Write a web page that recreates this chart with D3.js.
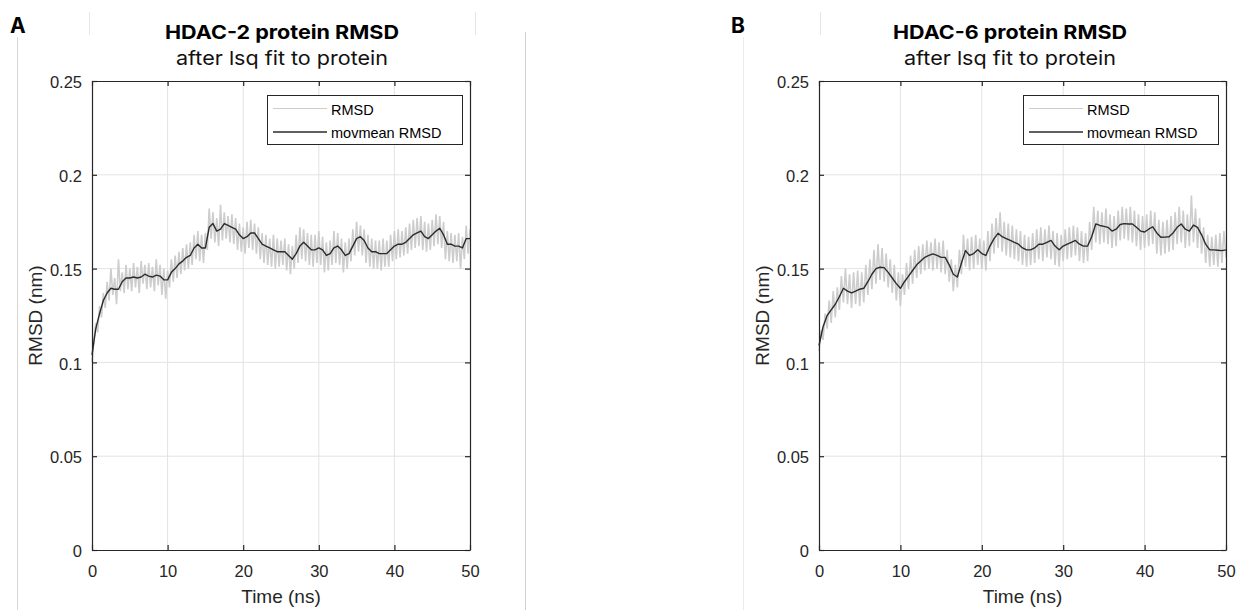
<!DOCTYPE html>
<html>
<head>
<meta charset="utf-8">
<script src="https://cdn.jsdelivr.net/npm/d3@7"></script>
<style>
    body { margin: 0; background: #fff; }
    svg { display: block; }
</style>
</head>
<body>
<script>

// sampling of the two series, in ns
var rawStep = 0.25;
var meanStep = 0.5;

// HDAC-2 raw RMSD (nm), one value every rawStep ns
var hdac2Raw = [
    0.100,0.112,0.121,0.116,0.130,0.124,0.137,0.129,0.143,0.133,
    0.150,0.136,0.145,0.131,0.155,0.138,0.148,0.137,0.152,0.139,
    0.150,0.138,0.153,0.140,0.151,0.137,0.154,0.142,0.152,0.139,
    0.153,0.140,0.151,0.138,0.155,0.141,0.152,0.136,0.150,0.134,
    0.149,0.140,0.155,0.143,0.157,0.145,0.159,0.147,0.161,0.149,
    0.163,0.150,0.164,0.152,0.168,0.155,0.170,0.154,0.168,0.153,
    0.169,0.160,0.182,0.166,0.180,0.164,0.177,0.162,0.184,0.165,
    0.180,0.166,0.178,0.164,0.179,0.163,0.177,0.160,0.174,0.159,
    0.172,0.158,0.175,0.161,0.176,0.160,0.174,0.158,0.172,0.155,
    0.169,0.153,0.168,0.152,0.166,0.151,0.168,0.150,0.166,0.151,
    0.165,0.152,0.166,0.149,0.163,0.147,0.162,0.150,0.168,0.153,
    0.172,0.155,0.171,0.154,0.169,0.152,0.168,0.151,0.168,0.153,
    0.170,0.152,0.167,0.148,0.164,0.149,0.165,0.152,0.170,0.153,
    0.169,0.152,0.166,0.148,0.164,0.150,0.166,0.154,0.171,0.157,
    0.175,0.159,0.173,0.157,0.171,0.153,0.168,0.151,0.166,0.150,
    0.165,0.150,0.165,0.149,0.166,0.151,0.165,0.151,0.168,0.154,
    0.170,0.155,0.171,0.156,0.170,0.157,0.172,0.158,0.174,0.160,
    0.176,0.161,0.177,0.162,0.178,0.160,0.175,0.159,0.174,0.160,
    0.176,0.162,0.179,0.163,0.178,0.161,0.175,0.155,0.170,0.154,
    0.169,0.153,0.168,0.154,0.169,0.150,0.167,0.155,0.173,0.158,
    0.171
];

// HDAC-2 moving mean RMSD (nm), one value every meanStep ns
var hdac2Mean = [
    0.104,0.118,0.126,0.133,0.137,0.1395,0.139,0.139,0.143,0.145,
    0.145,0.1455,0.145,0.1455,0.147,0.146,0.1455,0.1465,0.146,0.144,
    0.144,0.148,0.150,0.1525,0.154,0.156,0.157,0.161,0.163,0.161,
    0.161,0.172,0.174,0.170,0.171,0.174,0.173,0.172,0.171,0.168,
    0.166,0.167,0.169,0.169,0.166,0.163,0.162,0.161,0.160,0.159,
    0.159,0.159,0.157,0.155,0.158,0.162,0.164,0.162,0.160,0.160,
    0.161,0.160,0.157,0.158,0.161,0.162,0.160,0.157,0.158,0.162,
    0.166,0.167,0.165,0.161,0.159,0.159,0.158,0.158,0.158,0.160,
    0.162,0.163,0.163,0.164,0.166,0.168,0.169,0.170,0.167,0.166,
    0.168,0.170,0.1715,0.168,0.163,0.163,0.162,0.162,0.161,0.166,
    0.166
];

// HDAC-6 raw RMSD (nm)
var hdac6Raw = [
    0.106,0.117,0.112,0.126,0.118,0.133,0.121,0.138,0.124,0.140,
    0.128,0.146,0.132,0.150,0.131,0.147,0.129,0.148,0.131,0.149,
    0.130,0.148,0.132,0.152,0.136,0.155,0.139,0.160,0.142,0.163,
    0.144,0.161,0.143,0.158,0.140,0.155,0.137,0.152,0.133,0.148,
    0.130,0.147,0.136,0.153,0.139,0.157,0.142,0.160,0.145,0.162,
    0.147,0.163,0.149,0.165,0.150,0.164,0.149,0.166,0.150,0.164,
    0.148,0.165,0.147,0.160,0.143,0.155,0.138,0.152,0.140,0.160,
    0.147,0.168,0.151,0.166,0.149,0.167,0.150,0.168,0.152,0.166,
    0.150,0.165,0.149,0.170,0.154,0.174,0.158,0.177,0.161,0.180,
    0.159,0.175,0.157,0.174,0.156,0.173,0.155,0.171,0.154,0.170,
    0.152,0.168,0.151,0.167,0.152,0.169,0.153,0.171,0.155,0.172,
    0.154,0.171,0.156,0.173,0.155,0.170,0.152,0.169,0.151,0.168,
    0.154,0.171,0.155,0.172,0.156,0.173,0.157,0.172,0.154,0.170,
    0.153,0.169,0.154,0.175,0.160,0.183,0.164,0.181,0.163,0.180,
    0.164,0.182,0.163,0.179,0.161,0.178,0.162,0.181,0.165,0.183,
    0.166,0.182,0.165,0.183,0.164,0.181,0.162,0.179,0.160,0.178,
    0.161,0.179,0.162,0.181,0.163,0.180,0.158,0.176,0.157,0.175,
    0.158,0.176,0.159,0.178,0.160,0.180,0.163,0.183,0.164,0.181,
    0.161,0.179,0.162,0.189,0.164,0.182,0.161,0.177,0.158,0.172,
    0.153,0.168,0.151,0.167,0.152,0.168,0.151,0.169,0.153,0.170,
    0.156
];

// HDAC-6 moving mean RMSD (nm)
var hdac6Mean = [
    0.109,0.119,0.125,0.128,0.131,0.135,0.1395,0.138,0.137,0.138,
    0.139,0.1395,0.143,0.147,0.150,0.1507,0.1505,0.148,0.145,0.142,
    0.1395,0.143,0.146,0.149,0.152,0.154,0.156,0.157,0.1578,0.157,
    0.156,0.156,0.152,0.147,0.1455,0.153,0.1596,0.157,0.158,0.160,
    0.158,0.157,0.162,0.166,0.1688,0.167,0.166,0.165,0.164,0.163,
    0.161,0.160,0.160,0.161,0.163,0.163,0.164,0.165,0.162,0.160,
    0.162,0.163,0.164,0.165,0.163,0.162,0.162,0.167,0.1738,0.173,
    0.1725,0.172,0.170,0.171,0.1735,0.174,0.1738,0.1738,0.172,0.170,
    0.1695,0.171,0.1723,0.169,0.1667,0.1668,0.167,0.169,0.172,0.1738,
    0.171,0.170,0.1732,0.172,0.168,0.163,0.160,0.160,0.1598,0.1596,
    0.160
];

var xTicks = [0, 10, 20, 30, 40, 50];
var yTicks = [0, 0.05, 0.1, 0.15, 0.2, 0.25];
var legendLabels = ['RMSD', 'movmean RMSD'];
var panelLetters = ['A', 'B'];
var panelTitles = ['HDAC-2 protein RMSD', 'HDAC-6 protein RMSD'];
var subTitle = 'after lsq fit to protein';
var xLabel = 'Time (ns)';
var yLabel = 'RMSD (nm)';

var tickFont = '"Liberation Sans", Arial, sans-serif';
var titleFont = 'Inter, "Open Sans", sans-serif';
var axisColor = '#262626';
var gridColor = '#e3e3e3';
var rawColor = '#cdcdcd';
var meanColor = '#2b2b2b';

var svg = d3.select('body')
    .append('svg')
    .attr('width', 1239)
    .attr('height', 610);

// faint frame remnants between the two sub-figures
var frameLines = [
    {x: 17, y1: 37, y2: 610, c: '#d6d6d6'},
    {x: 89, y1: 12, y2: 35, c: '#e6e6e6'},
    {x: 475, y1: 12, y2: 35, c: '#e6e6e6'},
    {x: 525, y1: 32, y2: 610, c: '#d0d0d0'},
    {x: 743, y1: 37, y2: 610, c: '#ececec'},
    {x: 820, y1: 12, y2: 35, c: '#e6e6e6'}
];
svg.selectAll('line.frame')
    .data(frameLines)
    .enter().append('line')
    .attr('class', 'frame')
    .attr('x1', function(d) { return d.x + 0.5; })
    .attr('x2', function(d) { return d.x + 0.5; })
    .attr('y1', function(d) { return d.y1; })
    .attr('y2', function(d) { return d.y2; })
    .attr('stroke', function(d) { return d.c; })
    .attr('stroke-width', 1);

/**
 * Draws one RMSD panel: grid, both series, boxed axes, titles and legend.
 */
var drawPanel = function(raw, mean, opts) {

    var x = d3.scaleLinear().domain([0, 50]).range([opts.left, opts.right]);
    var y = d3.scaleLinear().domain([0, 0.25]).range([opts.bottom, opts.top]);

    var g = svg.append('g');

    // grid
    g.selectAll('line.gx')
        .data(xTicks.slice(1, -1))
        .enter().append('line')
        .attr('x1', function(d) { return x(d); })
        .attr('x2', function(d) { return x(d); })
        .attr('y1', opts.top)
        .attr('y2', opts.bottom)
        .attr('stroke', gridColor);

    g.selectAll('line.gy')
        .data(yTicks.slice(1, -1))
        .enter().append('line')
        .attr('x1', opts.left)
        .attr('x2', opts.right)
        .attr('y1', function(d) { return y(d); })
        .attr('y2', function(d) { return y(d); })
        .attr('stroke', gridColor);

    var rawLine = d3.line()
        .x(function(d, i) { return x(i * rawStep); })
        .y(function(d) { return y(d); });

    var meanLine = d3.line()
        .x(function(d, i) { return x(i * meanStep); })
        .y(function(d) { return y(d); });

    g.append('path')
        .datum(raw)
        .attr('fill', 'none')
        .attr('stroke', rawColor)
        .attr('stroke-width', 1.6)
        .attr('d', rawLine);

    g.append('path')
        .datum(mean)
        .attr('fill', 'none')
        .attr('stroke', meanColor)
        .attr('stroke-width', 1.4)
        .attr('stroke-linejoin', 'round')
        .attr('d', meanLine);

    // axes, ticks point inwards like matlab
    var fmt = function(d) { return String(d); };

    var bottom = g.append('g')
        .attr('transform', 'translate(0,' + opts.bottom + ')')
        .call(d3.axisBottom(x).tickValues(xTicks).tickFormat(fmt)
            .tickSizeInner(-5).tickSizeOuter(0).tickPadding(15));

    var left = g.append('g')
        .attr('transform', 'translate(' + opts.left + ',0)')
        .call(d3.axisLeft(y).tickValues(yTicks).tickFormat(fmt)
            .tickSizeInner(-5).tickSizeOuter(0).tickPadding(10));

    var top = g.append('g')
        .attr('transform', 'translate(0,' + opts.top + ')')
        .call(d3.axisTop(x).tickValues(xTicks).tickFormat('')
            .tickSizeInner(-5).tickSizeOuter(0));

    var right = g.append('g')
        .attr('transform', 'translate(' + opts.right + ',0)')
        .call(d3.axisRight(y).tickValues(yTicks).tickFormat('')
            .tickSizeInner(-5).tickSizeOuter(0));

    [bottom, left, top, right].forEach(function(a) {
        a.selectAll('path, line').attr('stroke', axisColor).attr('stroke-width', 1.2);
        a.selectAll('text')
            .attr('fill', axisColor)
            .attr('font-family', tickFont)
            .attr('font-size', '16.5px');
    });
    left.selectAll('text').attr('dy', '0.4em');

    // labels
    g.append('text')
        .attr('x', (opts.left + opts.right) / 2)
        .attr('y', 603)
        .attr('text-anchor', 'middle')
        .attr('font-family', tickFont)
        .attr('font-size', '19px')
        .attr('fill', axisColor)
        .text(xLabel);

    g.append('text')
        .attr('transform', 'translate(' + (opts.left - 50) + ',' +
            ((opts.top + opts.bottom) / 2) + ') rotate(-90)')
        .attr('text-anchor', 'middle')
        .attr('font-family', tickFont)
        .attr('font-size', '19px')
        .attr('fill', axisColor)
        .text(yLabel);

    g.append('text')
        .attr('x', opts.titleX)
        .attr('y', 39)
        .attr('text-anchor', 'middle')
        .attr('font-family', titleFont)
        .attr('font-weight', 'bold')
        .attr('font-size', '19px')
        .attr('textLength', 234)
        .attr('lengthAdjust', 'spacingAndGlyphs')
        .attr('fill', '#000')
        .text(opts.title);

    g.append('text')
        .attr('x', opts.titleX)
        .attr('y', 65)
        .attr('text-anchor', 'middle')
        .attr('font-family', titleFont)
        .attr('font-size', '19px')
        .attr('textLength', 212)
        .attr('lengthAdjust', 'spacingAndGlyphs')
        .attr('fill', '#111')
        .text(subTitle);

    g.append('text')
        .attr('x', opts.letterX)
        .attr('y', 33)
        .attr('font-family', titleFont)
        .attr('font-weight', 'bold')
        .attr('font-size', '21px')
        .attr('fill', '#000')
        .text(opts.letter);

    // legend box in the upper right corner
    var lw = 195, lh = 49;
    var lx = opts.right - 8 - lw, ly = opts.top + 14;
    var legend = g.append('g')
        .attr('transform', 'translate(' + lx + ',' + ly + ')');

    legend.append('rect')
        .attr('x', 0.5)
        .attr('y', 0.5)
        .attr('width', lw)
        .attr('height', lh)
        .attr('fill', '#fff')
        .attr('stroke', axisColor)
        .attr('stroke-width', 1);

    var keys = legend.selectAll('g.key')
        .data(legendLabels)
        .enter().append('g')
        .attr('transform', function(d, i) {
            return 'translate(0,' + (13.5 + i * 23.5) + ')';
        });

    keys.append('line')
        .attr('x1', 6)
        .attr('x2', 60)
        .attr('stroke', function(d, i) { return i === 0 ? rawColor : meanColor; })
        .attr('stroke-width', function(d, i) { return i === 0 ? 1 : 1.3; });

    keys.append('text')
        .attr('x', 64)
        .attr('y', 6)
        .attr('font-family', tickFont)
        .attr('font-size', '14.5px')
        .attr('fill', '#000')
        .text(function(d) { return d; });
};

drawPanel(hdac2Raw, hdac2Mean, {
    left: 92, right: 470, top: 81, bottom: 550,
    titleX: 282, letterX: 10, title: panelTitles[0], letter: panelLetters[0]
});

drawPanel(hdac6Raw, hdac6Mean, {
    left: 819, right: 1226, top: 81, bottom: 550,
    titleX: 1010, letterX: 731, title: panelTitles[1], letter: panelLetters[1]
});

</script>
</body>
</html>
